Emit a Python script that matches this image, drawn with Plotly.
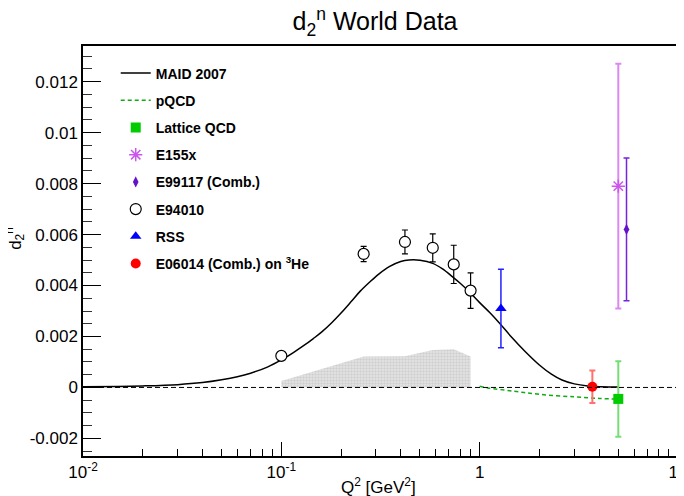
import plotly.graph_objects as go

# ---- data ----
maid_q2 = [0.01, 0.015, 0.02, 0.03, 0.04, 0.05, 0.06, 0.07, 0.085, 0.1, 0.115, 0.13, 0.145, 0.16, 0.18,
           0.2, 0.225, 0.25, 0.28, 0.31, 0.35, 0.4, 0.44, 0.5, 0.58, 0.65, 0.73, 0.8, 0.88, 1.0,
           1.13, 1.26, 1.45, 1.7, 2.0, 2.3, 2.6, 3.0, 3.5, 4.1, 5.0]
maid_d2 = [0.00003, 0.00004, 0.00006, 0.00011, 0.00019, 0.0003, 0.00042, 0.00056, 0.0008, 0.00108,
           0.00137, 0.00165, 0.00192, 0.00218, 0.00255, 0.00292, 0.00337, 0.00378, 0.00415, 0.00445,
           0.00474, 0.00494, 0.0050, 0.00499, 0.00487, 0.00465, 0.00434, 0.00408, 0.00378, 0.00333,
           0.00292, 0.00252, 0.00197, 0.00140, 0.00088, 0.00052, 0.00029, 0.00014, 0.00006, 0.00003,
           0.00002]

pqcd_q2 = [1.0, 1.1, 1.5, 2.0, 3.0, 4.0, 5.0]
pqcd_d2 = [0.00005, -0.00002, -0.00015, -0.00027, -0.00037, -0.00043, -0.00046]

band_q2 = [0.1, 0.26, 0.42, 0.58, 0.74, 0.9]
band_d2 = [0.00025, 0.00121, 0.00122, 0.00147, 0.0015, 0.00121]

lattice_q2 = [5.0]
lattice_d2 = [-0.00045]
lattice_err = [0.00148]

e155x_q2 = [5.0]
e155x_d2 = [0.0079]
e155x_err = [0.0048]

e99117_q2 = [5.5]
e99117_d2 = [0.0062]
e99117_err = [0.0028]

e94010_q2 = [0.1, 0.26, 0.42, 0.58, 0.74, 0.9]
e94010_d2 = [0.00124, 0.00524, 0.00571, 0.00548, 0.00483, 0.0038]
e94010_err = [0.0001, 0.0003, 0.00047, 0.00055, 0.00075, 0.0007]

rss_q2 = [1.28]
rss_d2 = [0.0031]
rss_err = [0.00154]

e06014_q2 = [3.7]
e06014_d2 = [0.00003]
e06014_err = [0.00064]

ytick_vals = [-0.002, 0, 0.002, 0.004, 0.006, 0.008, 0.01, 0.012]
ytick_text = ["-0.002", "0", "0.002", "0.004", "0.006", "0.008", "0.01", "0.012"]
xtick_vals = [0.01, 0.1, 1, 10]
xtick_text = ["10<sup>-2</sup>", "10<sup>-1</sup>", "1", "10"]

FONT = "Liberation Sans, Arial, sans-serif"

fig = go.Figure()

# systematic band
fig.add_trace(go.Scatter(
    x=band_q2, y=band_d2, mode="lines", fill="tozeroy",
    line=dict(width=0, color="rgba(0,0,0,0)"),
    fillcolor="#d9d9d9",
    fillpattern=dict(shape=".", size=3, solidity=0.5, fgcolor="#b8b8b8", bgcolor="#e6e6e6"),
    showlegend=False, hoverinfo="skip"))

fig.add_trace(go.Scatter(
    x=maid_q2, y=maid_d2, mode="lines", name="MAID 2007", legendgroup="a",
    line=dict(color="black", width=1.5, shape="spline", smoothing=1.0)))

fig.add_trace(go.Scatter(
    x=pqcd_q2, y=pqcd_d2, mode="lines", name="pQCD", legendgroup="b",
    line=dict(color="#11aa11", width=1.5, dash="4px,3px", shape="spline")))

fig.add_trace(go.Scatter(
    x=lattice_q2, y=lattice_d2, mode="markers", name="Lattice QCD", legendgroup="c",
    marker=dict(symbol="square", size=10, color="#00cc00"),
    error_y=dict(type="data", array=lattice_err, color="#77dd77", thickness=2, width=3)))

fig.add_trace(go.Scatter(
    x=e155x_q2, y=e155x_d2, mode="markers", name="E155x", legendgroup="d",
    marker=dict(symbol="asterisk-open", size=11, color="#cc55ee", line=dict(color="#cc55ee", width=1.5)),
    error_y=dict(type="data", array=e155x_err, color="#dd88f0", thickness=2, width=3)))

fig.add_trace(go.Scatter(
    x=e99117_q2, y=e99117_d2, mode="markers", name="E99117 (Comb.)", legendgroup="e",
    marker=dict(symbol="diamond-tall", size=8, color="#6611cc"),
    error_y=dict(type="data", array=e99117_err, color="#7722dd", thickness=1.5, width=3)))

fig.add_trace(go.Scatter(
    x=e94010_q2, y=e94010_d2, mode="markers", name="E94010", legendgroup="f",
    marker=dict(symbol="circle", size=11, color="white", line=dict(color="black", width=1.2)),
    error_y=dict(type="data", array=e94010_err, color="black", thickness=1.2, width=3)))

fig.add_trace(go.Scatter(
    x=rss_q2, y=rss_d2, mode="markers", name="RSS", legendgroup="g",
    marker=dict(symbol="triangle-up", size=10, color="#0000ff"),
    error_y=dict(type="data", array=rss_err, color="#2222ff", thickness=1.5, width=3)))

fig.add_trace(go.Scatter(
    x=e06014_q2, y=e06014_d2, mode="markers", name="E06014 (Comb.) on <sup>3</sup>He", legendgroup="h",
    marker=dict(symbol="circle", size=10, color="#ff0000"),
    error_y=dict(type="data", array=e06014_err, color="#ff7070", thickness=2, width=3)))

# zero line
fig.add_shape(type="line", xref="paper", x0=0, x1=1, yref="y", y0=0, y1=0,
              line=dict(color="black", width=1, dash="5px,3px"))

fig.update_layout(
    width=676, height=488,
    margin=dict(l=75, r=6, t=38, b=40, autoexpand=False),
    paper_bgcolor="white", plot_bgcolor="white",
    font=dict(family=FONT, color="black"),
    title=dict(text="d<sub>2</sub><sup>n</sup> World Data", x=0.543, xanchor="center",
               y=0.99, yanchor="top", yref="container", automargin=False,
               font=dict(size=25, family=FONT, color="black")),
    showlegend=True,
    legend=dict(x=0.055, y=0.972, xanchor="left", yanchor="top",
                bgcolor="rgba(255,255,255,0)", borderwidth=0,
                font=dict(size=14, family=FONT, weight="bold"),
                tracegroupgap=6, itemwidth=30),
    xaxis=dict(type="log", range=[-2, 1], showline=True, linecolor="black", linewidth=1.5,
               mirror=True, ticks="inside", ticklen=14, tickwidth=1, tickcolor="black",
               tickvals=xtick_vals, ticktext=xtick_text, tickfont=dict(size=17),
               ticklabeloverflow="allow",
               showgrid=False, zeroline=False, automargin=False,
               minor=dict(ticks="inside", ticklen=7, tickcolor="black", dtick="D1", showgrid=False)),
    yaxis=dict(range=[-0.00269, 0.0134], showline=True, linecolor="black", linewidth=1.5,
               mirror=True, ticks="inside", ticklen=18, tickwidth=1, tickcolor="black",
               tickvals=ytick_vals, ticktext=ytick_text, tickfont=dict(size=17),
               showgrid=False, zeroline=False, automargin=False,
               minor=dict(ticks="inside", ticklen=9, tickcolor="#333333", dtick=0.0005, showgrid=False)),
    annotations=[
        dict(text="d<sub>2</sub><sup>n</sup>", xref="paper", yref="paper",
             x=-0.114, y=0.53, xanchor="center", yanchor="middle", textangle=-90, showarrow=False,
             font=dict(size=17, family=FONT, color="black")),
        dict(text="Q<sup>2</sup> [GeV<sup>2</sup>]", xref="paper", yref="paper",
             x=0.497, y=-0.072, xanchor="center", yanchor="middle", showarrow=False,
             font=dict(size=17, family=FONT, color="black")),
    ],
)

fig.write_html("out.html")
